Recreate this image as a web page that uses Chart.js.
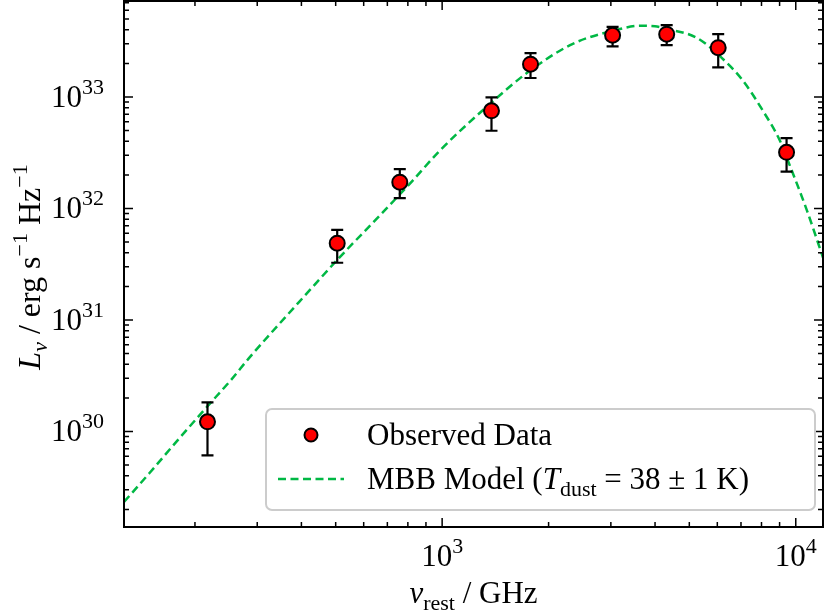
<!DOCTYPE html>
<html>
<head>
<meta charset="utf-8">
<script src="https://cdn.jsdelivr.net/npm/chart.js@4"></script>
<style>
  body { margin: 0; background: #fff; }
  canvas { display: block; }
</style>
</head>
<body>
<canvas id="sed" width="824" height="613"></canvas>
<script>
// observed points (rest frame GHz, erg/s/Hz) with error-bar bounds
const obsFreq = [217, 505, 759, 1379, 1778, 3034, 4315, 6035, 9418];
const obsLum = [1.22e30, 4.88e31, 1.72e32, 7.52e32, 1.97e33, 3.58e33, 3.66e33, 2.77e33, 3.19e32];
const obsLow = [6.1e29, 3.26e31, 1.24e32, 4.98e32, 1.48e33, 2.84e33, 2.92e33, 1.84e33, 2.14e32];
const obsHigh = [1.82e30, 6.43e31, 2.25e32, 9.9e32, 2.47e33, 4.25e33, 4.41e33, 3.66e33, 4.28e32];

// MBB model curve
const modelFreq = [126, 148.8, 180.9, 215.8, 252.5, 285.5, 395.5, 506.5, 666, 825.7, 984.5,
  1337, 1770, 2342, 3040, 3624, 3997, 4322, 5254, 6388, 7090, 8075, 9022, 9504, 10757, 11940];
const modelLum = [2.33e29, 4.24e29, 8.73e29, 1.65e30, 2.88e30, 4.62e30, 1.47e31, 3.49e31, 8.65e31, 1.78e32, 3.30e32,
  8.17e32, 1.72e33, 3.0e33, 3.92e33, 4.35e33, 4.31e33, 4.08e33, 3.39e33, 2.02e33, 1.40e33, 7.52e32, 4.05e32, 2.68e32, 9.57e31, 3.63e31];

const xDecades = [2, 3, 4];
const yDecades = [29, 30, 31, 32, 33];
const xRange = [126, 11940];
const yRange = [1.39e29, 7.26e33];

const green = '#00b844';
const FONT = '"Liberation Serif", "Times New Roman", serif';
const FS = 31;

// draws text made of pieces: {t, it (italic), pos: 0 normal / 1 sup / -1 sub}
function richText(ctx, parts, x, y, align, size) {
  const fontOf = p => (p.it ? 'italic ' : '') + Math.round(p.pos ? size * 0.7 : size) + 'px ' + FONT;
  let total = 0;
  parts.forEach(p => { ctx.font = fontOf(p); total += ctx.measureText(p.t).width; });
  let cx = align === 'center' ? x - total / 2 : align === 'right' ? x - total : x;
  ctx.textAlign = 'left';
  ctx.textBaseline = 'alphabetic';
  parts.forEach(p => {
    ctx.font = fontOf(p);
    const dy = p.pos === 1 ? -size * 0.42 : p.pos === -1 ? size * 0.22 : 0;
    ctx.fillText(p.t, cx, y + dy);
    cx += ctx.measureText(p.t).width;
  });
}

const decor = {
  id: 'decor',
  beforeDatasetDraw(chart, args) {
    if (args.index !== 0) return;
    const {ctx, scales: {x, y}} = chart;
    ctx.save();
    ctx.strokeStyle = '#000';
    ctx.lineWidth = 2.2;
    obsFreq.forEach((f, i) => {
      const px = x.getPixelForValue(f);
      const top = y.getPixelForValue(obsHigh[i]);
      const bot = y.getPixelForValue(obsLow[i]);
      ctx.beginPath();
      ctx.moveTo(px, top); ctx.lineTo(px, bot);
      ctx.moveTo(px - 6, top); ctx.lineTo(px + 6, top);
      ctx.moveTo(px - 6, bot); ctx.lineTo(px + 6, bot);
      ctx.stroke();
    });
    ctx.restore();
  },
  afterDraw(chart) {
    const {ctx, chartArea: a, scales: {x, y}} = chart;
    ctx.save();
    ctx.fillStyle = '#000';
    ctx.strokeStyle = '#000';

    // inward ticks on all four sides
    ctx.lineWidth = 1.5;
    const tick = (px, len, vertical) => {
      ctx.beginPath();
      if (vertical) {
        ctx.moveTo(px, a.bottom); ctx.lineTo(px, a.bottom - len);
        ctx.moveTo(px, a.top); ctx.lineTo(px, a.top + len);
      } else {
        ctx.moveTo(a.left, px); ctx.lineTo(a.left + len, px);
        ctx.moveTo(a.right, px); ctx.lineTo(a.right - len, px);
      }
      ctx.stroke();
    };
    xDecades.forEach(d => {
      for (let m = 1; m < 10; m++) {
        const v = m * Math.pow(10, d);
        if (v < xRange[0] || v > xRange[1]) continue;
        tick(x.getPixelForValue(v), m === 1 ? 9 : 5, true);
      }
    });
    yDecades.forEach(d => {
      for (let m = 1; m < 10; m++) {
        const v = m * Math.pow(10, d);
        if (v < yRange[0] || v > yRange[1]) continue;
        tick(y.getPixelForValue(v), m === 1 ? 9 : 5, false);
      }
    });

    // frame
    ctx.lineWidth = 2;
    ctx.strokeRect(a.left, a.top, a.right - a.left, a.bottom - a.top);

    // tick labels
    xDecades.forEach(d => {
      const v = Math.pow(10, d);
      if (v < xRange[0] || v > xRange[1]) return;
      richText(ctx, [{t: '10', pos: 0}, {t: String(d), pos: 1}], x.getPixelForValue(v), 566, 'center', FS);
    });
    yDecades.forEach(d => {
      const v = Math.pow(10, d);
      if (v < yRange[0] || v > yRange[1]) return;
      richText(ctx, [{t: '10', pos: 0}, {t: String(d), pos: 1}], 104, y.getPixelForValue(v) + 10, 'right', FS);
    });

    // axis titles
    richText(ctx, [
      {t: 'ν', it: true, pos: 0}, {t: 'rest', pos: -1}, {t: ' / GHz', pos: 0}
    ], (a.left + a.right) / 2, 603, 'center', FS);
    ctx.save();
    ctx.translate(40, (a.top + a.bottom) / 2 + 3);
    ctx.rotate(-Math.PI / 2);
    richText(ctx, [
      {t: 'L', it: true, pos: 0}, {t: 'ν', it: true, pos: -1}, {t: ' / erg s', pos: 0},
      {t: '−1', pos: 1}, {t: ' Hz', pos: 0}, {t: '−1', pos: 1}
    ], 0, 0, 'center', FS + 1);
    ctx.restore();

    // legend box
    ctx.fillStyle = 'rgba(255,255,255,0.8)';
    ctx.strokeStyle = '#cccccc';
    ctx.lineWidth = 2;
    ctx.beginPath();
    ctx.roundRect(266, 409, 549, 101, 6);
    ctx.fill();
    ctx.stroke();

    ctx.beginPath();
    ctx.arc(311, 435, 6.5, 0, Math.PI * 2);
    ctx.fillStyle = '#ff0000';
    ctx.fill();
    ctx.strokeStyle = '#000';
    ctx.lineWidth = 2;
    ctx.stroke();

    ctx.strokeStyle = green;
    ctx.lineWidth = 2.5;
    ctx.setLineDash([8, 4.5]);
    ctx.beginPath();
    ctx.moveTo(278, 479); ctx.lineTo(344, 479);
    ctx.stroke();
    ctx.setLineDash([]);

    ctx.fillStyle = '#000';
    richText(ctx, [{t: 'Observed Data', pos: 0}], 367, 445, 'left', FS);
    richText(ctx, [
      {t: 'MBB Model (', pos: 0}, {t: 'T', it: true, pos: 0}, {t: 'dust', pos: -1},
      {t: '\u2005=\u200538\u2005±\u20051 K)', pos: 0}
    ], 367, 489, 'left', FS);
    ctx.restore();
  }
};

new Chart(document.getElementById('sed'), {
  type: 'scatter',
  data: {
    datasets: [
      {
        label: 'Observed Data',
        data: obsFreq.map((f, i) => ({x: f, y: obsLum[i]})),
        pointRadius: 7.5,
        pointBackgroundColor: '#ff0000',
        pointBorderColor: '#000',
        pointBorderWidth: 2
      },
      {
        label: 'MBB Model',
        data: modelFreq.map((f, i) => ({x: f, y: modelLum[i]})),
        showLine: true,
        pointRadius: 0,
        borderColor: green,
        borderWidth: 2.5,
        borderDash: [8, 4.5],
        cubicInterpolationMode: 'monotone'
      }
    ]
  },
  options: {
    responsive: false,
    animation: false,
    devicePixelRatio: 1,
    layout: {autoPadding: false, padding: {left: 124, top: 1, right: 1, bottom: 86}},
    scales: {
      x: {type: 'logarithmic', min: xRange[0], max: xRange[1], display: false},
      y: {type: 'logarithmic', min: yRange[0], max: yRange[1], display: false}
    },
    plugins: {legend: {display: false}, tooltip: {enabled: false}}
  },
  plugins: [decor]
});
</script>
</body>
</html>
